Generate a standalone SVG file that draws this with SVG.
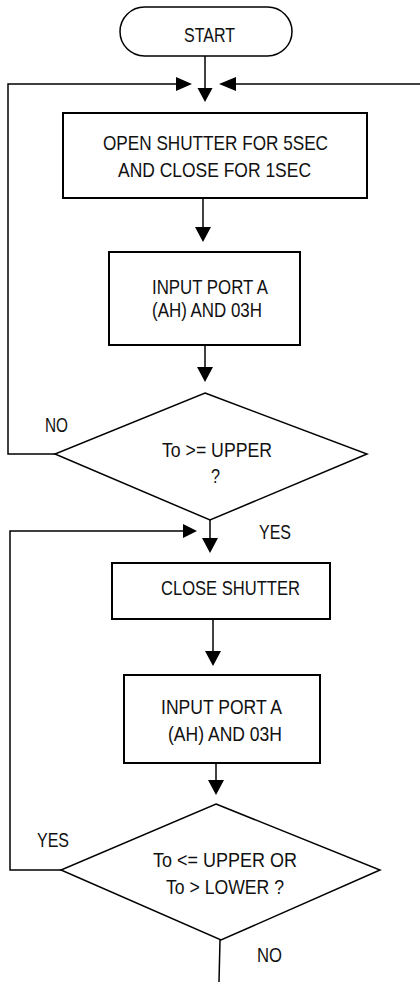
<svg xmlns="http://www.w3.org/2000/svg" width="420" height="982" viewBox="0 0 420 982">
<style>
.n{fill:#fff;stroke:#000;stroke-width:2}
.d{fill:#fff;stroke:#000;stroke-width:1.5}
.c{fill:none;stroke:#000;stroke-width:1.5}
.a{fill:#000;stroke:none}
text{font-family:"Liberation Sans",Arial,sans-serif;font-size:21px;fill:#111}
</style>
<rect width="420" height="982" fill="#fff"/>
<g id="connectors">
<polyline class="c" points="205,56 205,90"/>
<polygon class="a" points="197.5,88 212.5,88 205,102"/>
<polyline class="c" points="55,454 8,454 8,84 180,84"/>
<polygon class="a" points="176,77 176,91 192,84"/>
<polyline class="c" points="420,84 234,84"/>
<polygon class="a" points="236,77 236,91 219,84"/>
<polyline class="c" points="203,198 203,230"/>
<polygon class="a" points="195,227 211,227 203,242"/>
<polyline class="c" points="205,345 205,370"/>
<polygon class="a" points="197,367 213,367 205,382"/>
<polyline class="c" points="210,520 210,541"/>
<polygon class="a" points="202,538 218,538 210,553"/>
<polyline class="c" points="61,870 10,870 10,531 185,531"/>
<polygon class="a" points="183,524 183,538 197,531"/>
<polyline class="c" points="213,619 213,654"/>
<polygon class="a" points="205,651 221,651 213,666"/>
<polyline class="c" points="216,763 216,783"/>
<polygon class="a" points="208,780 224,780 216,795"/>
<polyline class="c" points="220,940 219,982"/>
</g>
<g id="start">
<rect class="d" x="120" y="7" width="172" height="49" rx="24.5" ry="24.5"/>
<text x="184" y="42" textLength="51" lengthAdjust="spacingAndGlyphs">START</text>
</g>
<g id="box1">
<rect class="n" x="63" y="113" width="304" height="85"/>
<text x="103" y="150" textLength="225" lengthAdjust="spacingAndGlyphs">OPEN SHUTTER FOR 5SEC</text>
<text x="118" y="177" textLength="193" lengthAdjust="spacingAndGlyphs">AND CLOSE FOR 1SEC</text>
</g>
<g id="box2">
<rect class="n" x="109" y="252" width="191" height="93"/>
<text x="152" y="294" textLength="116" lengthAdjust="spacingAndGlyphs">INPUT PORT A</text>
<text x="152" y="317" textLength="110" lengthAdjust="spacingAndGlyphs">(AH) AND 03H</text>
</g>
<g id="decision1">
<polygon class="d" points="205,393 367,454 210,520 55,454"/>
<text x="162" y="457" textLength="110" lengthAdjust="spacingAndGlyphs">To &gt;= UPPER</text>
<text x="211" y="483" textLength="9" lengthAdjust="spacingAndGlyphs">?</text>
</g>
<g id="label-no1"><text x="45" y="432" textLength="23" lengthAdjust="spacingAndGlyphs">NO</text></g>
<g id="label-yes1"><text x="259" y="539" textLength="32" lengthAdjust="spacingAndGlyphs">YES</text></g>
<g id="box3">
<rect class="n" x="112" y="563" width="218" height="56"/>
<text x="161" y="595" textLength="139" lengthAdjust="spacingAndGlyphs">CLOSE SHUTTER</text>
</g>
<g id="box4">
<rect class="n" x="124" y="675" width="196" height="88"/>
<text x="161" y="714" textLength="121" lengthAdjust="spacingAndGlyphs">INPUT PORT A</text>
<text x="168" y="741" textLength="114" lengthAdjust="spacingAndGlyphs">(AH) AND 03H</text>
</g>
<g id="decision2">
<polygon class="d" points="216,804 380,870 221,940 61,870"/>
<text x="153" y="867" textLength="144" lengthAdjust="spacingAndGlyphs">To &lt;= UPPER OR</text>
<text x="166" y="894" textLength="118" lengthAdjust="spacingAndGlyphs">To &gt; LOWER ?</text>
</g>
<g id="label-yes2"><text x="37" y="847" textLength="32" lengthAdjust="spacingAndGlyphs">YES</text></g>
<g id="label-no2"><text x="257" y="962" textLength="25" lengthAdjust="spacingAndGlyphs">NO</text></g>
</svg>
